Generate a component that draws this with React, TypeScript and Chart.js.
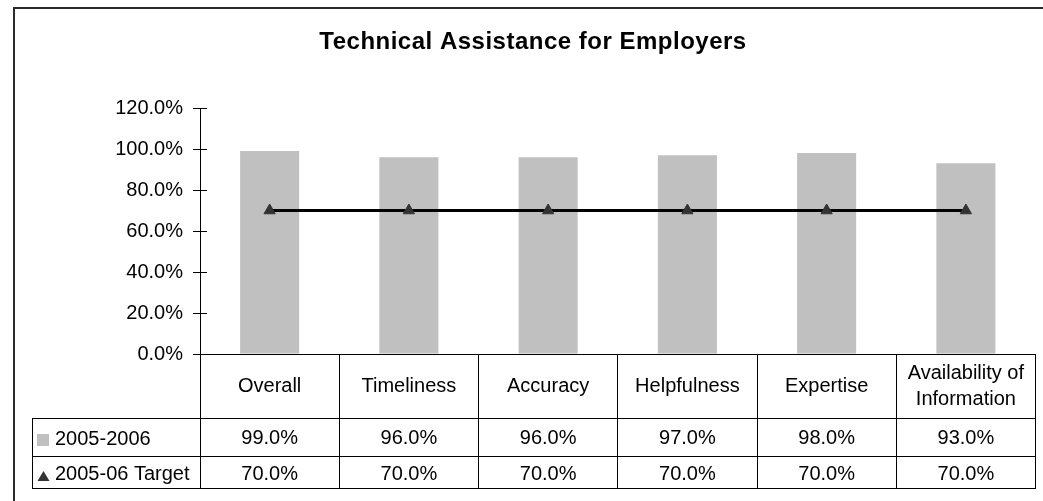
import React, { useEffect, useRef } from 'react';
import { Chart, registerables } from 'chart.js';

Chart.register(...registerables);

const chartTitle = 'Technical Assistance for Employers';
const categories: string[][] = [
  ['Overall'],
  ['Timeliness'],
  ['Accuracy'],
  ['Helpfulness'],
  ['Expertise'],
  ['Availability of', 'Information'],
];
const seriesNames = ['2005-2006', '2005-06 Target'];
const values2005 = [99, 96, 96, 97, 98, 93];
const valuesTarget = [70, 70, 70, 70, 70, 70];
const yTicks = [0, 20, 40, 60, 80, 100, 120];

const FONT = '"Liberation Sans", Arial, Helvetica, sans-serif';
const BAR_COLOR = '#c0c0c0';
const MARKER_COLOR = '#333333';

const fmt = (v: number) => v.toFixed(1) + '%';
const align = (p: number) => Math.round(p - 0.5) + 0.5;

const tablePlugin = {
  id: 'tablePlugin',
  beforeDraw(chart: any) {
    const ctx = chart.ctx;
    ctx.save();
    ctx.fillStyle = '#ffffff';
    ctx.fillRect(0, 0, chart.width, chart.height);
    ctx.strokeStyle = '#2b2b2b';
    ctx.lineWidth = 2;
    ctx.strokeRect(14, 8, 1100, 600);
    ctx.restore();
  },
  afterDraw(chart: any) {
    const ctx = chart.ctx;
    const ca = chart.chartArea;
    const xs = chart.scales.x;
    const ys = chart.scales.y;
    ctx.save();

    // title
    ctx.fillStyle = '#000';
    ctx.font = `bold 24px ${FONT}`;
    ctx.textAlign = 'center';
    ctx.textBaseline = 'alphabetic';
    (ctx as any).letterSpacing = '0.5px';
    ctx.fillText(chartTitle, 533, 49);
    (ctx as any).letterSpacing = '0px';

    const line = (x1: number, y1: number, x2: number, y2: number) => {
      ctx.beginPath();
      ctx.moveTo(x1, y1);
      ctx.lineTo(x2, y2);
      ctx.stroke();
    };

    ctx.strokeStyle = '#000';
    ctx.lineWidth = 1;
    // inner half of crossing tick marks
    yTicks.forEach((v) => {
      const y = align(ys.getPixelForValue(v));
      line(ca.left, y, ca.left + 7, y);
    });

    // data table
    const n = categories.length;
    const bounds: number[] = [ca.left];
    for (let i = 0; i < n - 1; i++) {
      bounds.push((xs.getPixelForValue(i) + xs.getPixelForValue(i + 1)) / 2);
    }
    bounds.push(ca.right);
    const top = ca.bottom;
    const r1 = 418;
    const r2 = 456;
    const r3 = 488;
    const legendLeft = 32;

    bounds.forEach((b) => line(align(b), top, align(b), r3 + 0.5));
    [r1, r2, r3].forEach((r) => line(legendLeft, r + 0.5, ca.right + 0.5, r + 0.5));
    line(legendLeft + 0.5, r1, legendLeft + 0.5, r3 + 0.5);

    ctx.font = `20px ${FONT}`;
    ctx.fillStyle = '#000';
    ctx.textAlign = 'center';
    for (let i = 0; i < n; i++) {
      const cx = (bounds[i] + bounds[i + 1]) / 2;
      const lines = categories[i];
      if (lines.length === 1) {
        ctx.fillText(lines[0], cx, 392);
      } else {
        ctx.fillText(lines[0], cx, 379);
        ctx.fillText(lines[1], cx, 405);
      }
      ctx.fillText(fmt(values2005[i]), cx, 444);
      ctx.fillText(fmt(valuesTarget[i]), cx, 480);
    }

    // legend keys
    ctx.textAlign = 'left';
    ctx.fillText(seriesNames[0], 55, 445);
    ctx.fillText(seriesNames[1], 55, 480);
    ctx.fillStyle = BAR_COLOR;
    ctx.fillRect(37, 434, 12, 12);
    ctx.fillStyle = MARKER_COLOR;
    ctx.beginPath();
    ctx.moveTo(43.5, 471);
    ctx.lineTo(49.5, 481);
    ctx.lineTo(37.5, 481);
    ctx.closePath();
    ctx.fill();

    ctx.restore();
  },
};

export default function App() {
  const ref = useRef<HTMLCanvasElement | null>(null);

  useEffect(() => {
    if (!ref.current) return;
    const chart = new Chart(ref.current, {
      type: 'bar',
      data: {
        labels: categories,
        datasets: [
          {
            type: 'line',
            label: seriesNames[1],
            data: valuesTarget,
            borderColor: '#000000',
            borderWidth: 3,
            backgroundColor: MARKER_COLOR,
            pointStyle: 'triangle',
            pointRadius: 6.5,
            pointBackgroundColor: MARKER_COLOR,
            pointBorderColor: MARKER_COLOR,
            pointBorderWidth: 1,
            fill: false,
            tension: 0,
            order: 0,
          } as any,
          {
            type: 'bar',
            label: seriesNames[0],
            data: values2005,
            backgroundColor: BAR_COLOR,
            borderWidth: 0,
            categoryPercentage: 1,
            barPercentage: 0.424,
            order: 1,
          },
        ],
      },
      options: {
        animation: false,
        responsive: false,
        devicePixelRatio: 1,
        layout: { padding: { left: 14, right: 7, top: 108, bottom: 0 } },
        plugins: {
          legend: { display: false },
          title: { display: false },
          tooltip: { enabled: false },
        },
        scales: {
          x: {
            type: 'category',
            offset: true,
            ticks: { display: false },
            grid: { display: false },
            border: { display: true, color: '#000', width: 1 },
            afterFit: (s: any) => {
              s.height = 147;
            },
          },
          y: {
            min: 0,
            max: 120,
            ticks: {
              stepSize: 20,
              padding: 10,
              color: '#000',
              font: { family: FONT, size: 20 },
              callback: (v: any) => fmt(Number(v)),
            },
            grid: {
              display: true,
              drawOnChartArea: false,
              drawTicks: true,
              tickLength: 7,
              color: '#000',
              tickColor: '#000',
            },
            border: { display: true, color: '#000', width: 1 },
            afterFit: (s: any) => {
              s.width = 186;
            },
          },
        },
      },
      plugins: [tablePlugin],
    });
    return () => chart.destroy();
  }, []);

  return (
    <div style={{ position: 'absolute', left: 0, top: 0, width: 1043, height: 501 }}>
      <canvas ref={ref} width={1043} height={501} style={{ display: 'block' }} />
    </div>
  );
}
